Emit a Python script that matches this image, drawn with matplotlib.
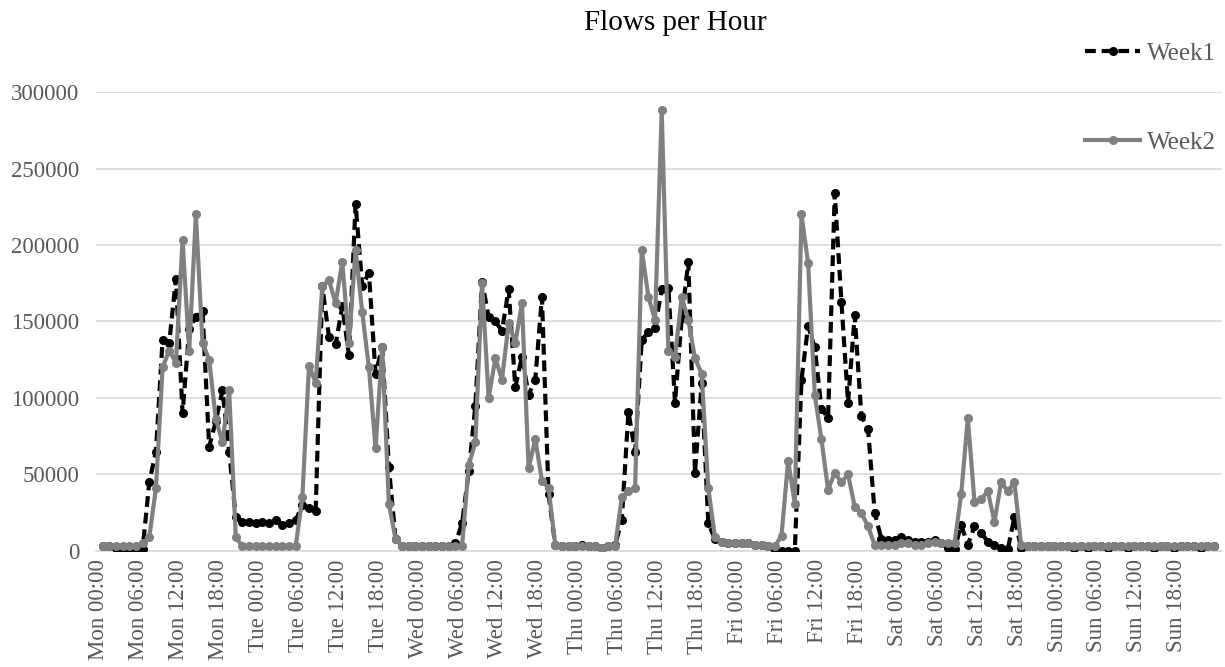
import numpy as np
import matplotlib
matplotlib.use("Agg")
import matplotlib.pyplot as plt

# hourly flow counts, Mon 00:00 .. Sun 23:00
week1 = (
    [3000, 3000, 2000, 1000, 1000, 2000, 1000, 45000, 65000, 138000, 136000, 178000,
     90000, 145000, 153000, 157000, 68000, 85000, 105000, 65000, 22000, 19000, 19000, 18000]  # Mon
    + [19000, 18000, 20000, 17000, 18000, 20000, 30000, 28000, 26000, 173000, 140000, 135000,
       160000, 128000, 227000, 173000, 182000, 116000, 133000, 55000, 8000, 3000, 3000, 3000]  # Tue
    + [3000, 3000, 3000, 3000, 3000, 5000, 18000, 52000, 95000, 176000, 153000, 150000,
       144000, 171000, 107000, 127000, 102000, 112000, 166000, 37000, 4000, 3000, 3000, 3000]  # Wed
    + [4000, 3000, 3000, 2000, 3000, 4000, 20000, 91000, 65000, 138000, 143000, 146000,
       171000, 172000, 97000, 152000, 189000, 51000, 110000, 18000, 8000, 6000, 5000, 5000]  # Thu
    + [5000, 5000, 4000, 4000, 3000, 0, 0, 0, 0, 112000, 147000, 133000,
       93000, 87000, 234000, 163000, 97000, 154000, 88000, 80000, 25000, 8000, 7000, 7000]  # Fri
    + [9000, 7000, 6000, 6000, 6000, 7000, 5000, 2000, 1000, 17000, 4000, 16000,
       12000, 6000, 4000, 2000, 1000, 22000, 2000, 3000, 3000, 3000, 3000, 3000]  # Sat
    + [3000, 3000, 2000, 3000, 2000, 3000, 3000, 2000, 3000, 3000, 2000, 3000,
       3000, 3000, 2000, 3000, 3000, 2000, 3000, 3000, 3000, 2000, 3000, 3000]  # Sun
)

week2 = (
    [3000, 3000, 3000, 3000, 3000, 3000, 5000, 9000, 41000, 120000, 131000, 123000,
     203000, 131000, 220000, 136000, 125000, 86000, 71000, 105000, 9000, 3000, 3000, 3000]  # Mon
    + [3000, 3000, 3000, 3000, 3000, 3000, 35000, 121000, 110000, 173000, 177000, 162000,
       189000, 136000, 197000, 156000, 120000, 67000, 133000, 31000, 8000, 3000, 3000, 3000]  # Tue
    + [3000, 3000, 3000, 3000, 3000, 3000, 3000, 56000, 71000, 175000, 100000, 126000,
       112000, 149000, 136000, 162000, 54000, 73000, 46000, 41000, 4000, 3000, 3000, 3000]  # Wed
    + [3000, 3000, 3000, 2000, 3000, 3000, 35000, 39000, 41000, 197000, 166000, 151000,
       288000, 131000, 127000, 166000, 151000, 126000, 116000, 41000, 9000, 6000, 5000, 5000]  # Thu
    + [5000, 5000, 4000, 4000, 3000, 3000, 10000, 59000, 31000, 220000, 188000, 102000,
       73000, 40000, 51000, 45000, 50000, 29000, 25000, 16000, 4000, 4000, 4000, 4000]  # Fri
    + [5000, 5000, 4000, 4000, 5000, 6000, 5000, 5000, 5000, 37000, 87000, 32000,
       34000, 39000, 19000, 45000, 39000, 45000, 4000, 3000, 3000, 3000, 3000, 3000]  # Sat
    + [3000] * 24  # Sun
)

days = ["Mon", "Tue", "Wed", "Thu", "Fri", "Sat", "Sun"]
hours = ["00:00", "06:00", "12:00", "18:00"]
tick_labels = [f"{d} {h}" for d in days for h in hours]

plt.rcParams["font.family"] = ["Liberation Serif", "DejaVu Serif"]

fig = plt.figure(figsize=(12.25, 6.67), dpi=100)
ax = fig.add_axes([0.0784, 0.174, 0.9192, 0.688])

x = np.arange(len(week1))
ax.plot(x, week1, color="black", lw=3, ls=(0, (2.6, 1.4)), marker="o", ms=5.5,
        label="Week1", zorder=3)
ax.plot(x, week2, color="#808080", lw=3, marker="o", ms=5.5, label="Week2", zorder=4)

ax.set_xlim(-1.0, len(week1) + 0.2)
ax.set_ylim(0, 300000)
ax.set_yticks(np.arange(0, 300001, 50000))
# labels sit a little left of their hour point in the original
ax.set_xticks(np.arange(0, len(week1), 6) - 0.6)
ax.set_xticklabels(tick_labels, rotation=90)
ax.tick_params(axis="y", length=0, pad=12, labelsize=16.5, labelcolor="#595959")
ax.tick_params(axis="x", length=0, pad=6, labelsize=16.5, labelcolor="#595959")

ax.grid(axis="y", color="#d9d9d9", lw=1.2)
ax.set_axisbelow(True)
for s in ["top", "right", "left"]:
    ax.spines[s].set_visible(False)
ax.spines["bottom"].set_color("#d9d9d9")
ax.spines["bottom"].set_linewidth(1.2)

fig.text(0.551, 0.966, "Flows per Hour", ha="center", va="center", fontsize=21)

fig.legend(loc="upper right", bbox_to_anchor=(1.003, 0.955), frameon=False,
           fontsize=18, labelspacing=2.65, handlelength=2.2, handletextpad=0.28,
           borderpad=0, labelcolor="#595959")

fig.savefig("out.png", dpi=100)
